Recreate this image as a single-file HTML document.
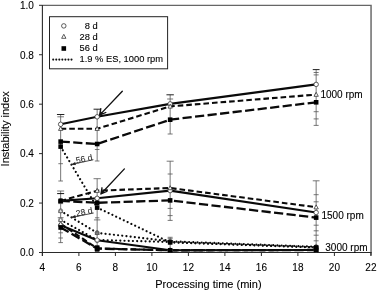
<!DOCTYPE html>
<html><head><meta charset="utf-8"><title>chart</title>
<style>html,body{margin:0;padding:0;background:#fff;overflow:hidden}body{width:378px;height:291px;position:relative;font-family:"Liberation Sans",sans-serif}</style>
</head><body>
<svg width="378" height="291" viewBox="0 0 378 291" style="position:absolute;left:0;top:0;will-change:transform" font-family="'Liberation Sans', sans-serif">
<rect width="378" height="291" fill="#fff"/>
<g fill="none">
<path d="M42.4 5.35H371.05V255.5" stroke="#666" stroke-width="1.45"/>
<path d="M42.4 4.9V256M39.0 252.5H371.6" stroke="#2a2a2a" stroke-width="1.1"/>
<path d="M39.0 252.50H42.4M39.0 203.06H42.4M39.0 153.62H42.4M39.0 104.18H42.4M39.0 54.74H42.4M39.0 5.30H42.4M42.40 252.5V256M78.90 252.5V256M115.40 252.5V256M151.90 252.5V256M188.40 252.5V256M224.90 252.5V256M261.40 252.5V256M297.90 252.5V256M334.40 252.5V256M370.90 252.5V256" stroke="#2a2a2a" stroke-width="1"/>
</g>
<g font-size="10" fill="#000" stroke="#000" stroke-width="0.1">
<text x="33.9" y="256.30" text-anchor="end">0.0</text>
<text x="33.9" y="206.86" text-anchor="end">0.2</text>
<text x="33.9" y="157.42" text-anchor="end">0.4</text>
<text x="33.9" y="107.98" text-anchor="end">0.6</text>
<text x="33.9" y="58.54" text-anchor="end">0.8</text>
<text x="33.9" y="9.10" text-anchor="end">1.0</text>
<text x="42.40" y="270.6" text-anchor="middle">4</text>
<text x="78.90" y="270.6" text-anchor="middle">6</text>
<text x="115.40" y="270.6" text-anchor="middle">8</text>
<text x="151.90" y="270.6" text-anchor="middle">10</text>
<text x="188.40" y="270.6" text-anchor="middle">12</text>
<text x="224.90" y="270.6" text-anchor="middle">14</text>
<text x="261.40" y="270.6" text-anchor="middle">16</text>
<text x="297.90" y="270.6" text-anchor="middle">18</text>
<text x="334.40" y="270.6" text-anchor="middle">20</text>
<text x="370.90" y="270.6" text-anchor="middle">22</text>
</g>
<text x="208.4" y="288" font-size="11" text-anchor="middle" fill="#000" stroke="#000" stroke-width="0.1">Processing time (min)</text>
<text transform="translate(9.3 128.8) rotate(-90)" font-size="11" text-anchor="middle" fill="#000" stroke="#000" stroke-width="0.1">Instability index</text>
<g stroke="#555" stroke-width="0.8" fill="none">
<path d="M60.65 114.5V181.0M57.35 116.8H63.95M58.35 163.7H62.95M58.35 181.0H62.95"/><path d="M56.95 114.5H64.35" stroke="#222" stroke-width="1"/>
<path d="M60.65 191.0V242.6M57.15 191.0H64.15M58.15 203.6H63.15M57.75 217.7H63.55M58.35 232.8H62.95M58.35 238.0H62.95M58.35 242.6H62.95"/><path d="M57.15 193.6H64.15" stroke="#111" stroke-width="1"/>
<path d="M97.15 109.2V161.0M94.85 149.5H99.45M94.85 161.0H99.45"/><path d="M93.55 109.2H100.75" stroke="#222" stroke-width="1"/>
<path d="M97.15 178.7V249.0M93.55 178.7H100.75M94.95 217.8H99.35M93.95 219.9H100.35"/>
<path d="M170.15 94.8V134.0M167.15 99.0H173.15M167.65 134.0H172.65"/><path d="M166.45 94.8H173.85" stroke="#222" stroke-width="1"/>
<path d="M170.15 161.2V220.4M166.65 161.2H173.65M167.65 174.0H172.65M167.65 208.4H172.65M167.65 215.6H172.65M167.65 220.4H172.65"/>
<path d="M170.15 237.3V250.0M167.65 237.3H172.65M167.65 238.7H172.65"/>
<path d="M316.15 69.6V125.4M313.65 72.5H318.65M313.65 74.9H318.65M313.65 111.7H318.65M313.65 118.9H318.65M313.65 125.4H318.65"/><path d="M312.75 69.6H319.55" stroke="#222" stroke-width="1"/>
<path d="M316.15 180.8V250.0M312.75 180.8H319.55M313.65 194.7H318.65M313.65 201.8H318.65M313.65 225.2H318.65M313.65 230.8H318.65M313.65 235.2H318.65M313.65 240.8H318.65"/>
</g>
<g stroke="#0a0a0a" fill="none" stroke-linejoin="round">
<path d="M60.65 146.60L97.15 207.60" stroke-width="2.2" stroke-dasharray="0.01 4.2" stroke-linecap="round" stroke-dashoffset="0"/>
<path d="M97.15 207.60L170.15 242.40" stroke-width="2.2" stroke-dasharray="0.01 4.2" stroke-linecap="round" stroke-dashoffset="0"/>
<path d="M170.15 242.40L316.15 247.50" stroke-width="2.2" stroke-dasharray="0.01 4.2" stroke-linecap="round" stroke-dashoffset="0"/>
<path d="M60.65 210.90L97.15 232.80" stroke-width="2.2" stroke-dasharray="0.01 4.2" stroke-linecap="round" stroke-dashoffset="0"/>
<path d="M97.15 232.80L170.15 241.30" stroke-width="2.2" stroke-dasharray="0.01 4.2" stroke-linecap="round" stroke-dashoffset="0"/>
<path d="M170.15 241.30L316.15 246.80" stroke-width="2.2" stroke-dasharray="0.01 4.2" stroke-linecap="round" stroke-dashoffset="-2.1"/>
<path d="M60.65 219.80L97.15 240.00" stroke-width="2.2" stroke-dasharray="0.01 4.2" stroke-linecap="round" stroke-dashoffset="0"/>
<path d="M97.15 240.00L170.15 242.00" stroke-width="2.2" stroke-dasharray="0.01 4.2" stroke-linecap="round" stroke-dashoffset="-2.1"/>
<path d="M170.15 242.00L316.15 247.30" stroke-width="2.2" stroke-dasharray="0.01 4.2" stroke-linecap="round" stroke-dashoffset="0"/>
<polyline points="60.65,124.30 97.15,116.80 170.15,103.90 316.15,84.40" stroke-width="2.1"/>
<polyline points="60.65,128.70 97.15,128.70 170.15,106.40 316.15,94.60" stroke-width="2.1" stroke-dasharray="5.6 3" stroke-linecap="butt"/>
<polyline points="60.65,141.60 97.15,144.00 170.15,119.70 316.15,102.30" stroke-width="2.3" stroke-dasharray="9.2 3.4"/>
<polyline points="60.65,200.90 97.15,198.30 170.15,190.60 316.15,212.50" stroke-width="2.1"/>
<polyline points="60.65,200.90 97.15,190.70 170.15,188.00 316.15,207.20" stroke-width="2.1" stroke-dasharray="5.6 3" stroke-linecap="butt"/>
<polyline points="60.65,200.90 97.15,202.80 170.15,200.40 316.15,217.60" stroke-width="2.3" stroke-dasharray="9.2 3.4"/>
<polyline points="60.65,225.30 97.15,240.30 170.15,250.30 316.15,250.00" stroke-width="2.1"/>
<polyline points="60.65,223.80 97.15,248.40 170.15,250.30 316.15,250.00" stroke-width="2.1" stroke-dasharray="5.6 3" stroke-linecap="butt"/>
<polyline points="60.65,227.50 97.15,248.60 170.15,250.30 316.15,250.00" stroke-width="2.3" stroke-dasharray="9.2 3.4"/>
</g>
<g>
<circle cx="60.65" cy="124.30" r="2.25" fill="#fff" stroke="#333" stroke-width="0.8"/>
<circle cx="97.15" cy="116.80" r="2.25" fill="#fff" stroke="#333" stroke-width="0.8"/>
<circle cx="170.15" cy="103.90" r="2.25" fill="#fff" stroke="#333" stroke-width="0.8"/>
<circle cx="316.15" cy="84.40" r="2.25" fill="#fff" stroke="#333" stroke-width="0.8"/>
<circle cx="60.65" cy="200.90" r="2.25" fill="#fff" stroke="#333" stroke-width="0.8"/>
<circle cx="97.15" cy="198.30" r="2.25" fill="#fff" stroke="#333" stroke-width="0.8"/>
<circle cx="170.15" cy="190.60" r="2.25" fill="#fff" stroke="#333" stroke-width="0.8"/>
<circle cx="316.15" cy="212.50" r="2.25" fill="#fff" stroke="#333" stroke-width="0.8"/>
<circle cx="60.65" cy="225.30" r="2.25" fill="#fff" stroke="#333" stroke-width="0.8"/>
<circle cx="97.15" cy="240.30" r="2.25" fill="#fff" stroke="#333" stroke-width="0.8"/>
<circle cx="170.15" cy="250.30" r="2.25" fill="#fff" stroke="#333" stroke-width="0.8"/>
<circle cx="316.15" cy="250.00" r="2.25" fill="#fff" stroke="#333" stroke-width="0.8"/>
<circle cx="60.65" cy="219.80" r="2.05" fill="#fff" stroke="#666" stroke-width="0.8"/>
<path d="M60.65 217.50L62.80 221.50H58.50Z" fill="none" stroke="#666" stroke-width="0.8"/>
<circle cx="97.15" cy="240.00" r="2.05" fill="#fff" stroke="#666" stroke-width="0.8"/>
<circle cx="170.15" cy="242.00" r="2.05" fill="#fff" stroke="#666" stroke-width="0.8"/>
<circle cx="316.15" cy="247.30" r="2.05" fill="#fff" stroke="#666" stroke-width="0.8"/>
<path d="M60.65 126.40L62.80 130.40H58.50Z" fill="#fff" stroke="#333" stroke-width="0.8"/>
<path d="M97.15 126.40L99.30 130.40H95.00Z" fill="#fff" stroke="#333" stroke-width="0.8"/>
<path d="M170.15 104.10L172.30 108.10H168.00Z" fill="#fff" stroke="#333" stroke-width="0.8"/>
<path d="M316.15 92.30L318.30 96.30H314.00Z" fill="#fff" stroke="#333" stroke-width="0.8"/>
<path d="M60.65 198.60L62.80 202.60H58.50Z" fill="#fff" stroke="#333" stroke-width="0.8"/>
<path d="M97.15 188.40L99.30 192.40H95.00Z" fill="#fff" stroke="#333" stroke-width="0.8"/>
<path d="M170.15 185.70L172.30 189.70H168.00Z" fill="#fff" stroke="#333" stroke-width="0.8"/>
<path d="M316.15 204.90L318.30 208.90H314.00Z" fill="#fff" stroke="#333" stroke-width="0.8"/>
<path d="M60.65 221.50L62.80 225.50H58.50Z" fill="#fff" stroke="#333" stroke-width="0.8"/>
<path d="M97.15 246.10L99.30 250.10H95.00Z" fill="#fff" stroke="#333" stroke-width="0.8"/>
<path d="M170.15 248.00L172.30 252.00H168.00Z" fill="#fff" stroke="#333" stroke-width="0.8"/>
<path d="M316.15 247.70L318.30 251.70H314.00Z" fill="#fff" stroke="#333" stroke-width="0.8"/>
<circle cx="60.65" cy="210.90" r="2.05" fill="#e4e4e4" stroke="#555" stroke-width="0.8"/>
<path d="M60.65 208.60L62.80 212.60H58.50Z" fill="#e4e4e4" stroke="#555" stroke-width="0.8"/>
<circle cx="97.15" cy="232.80" r="2.05" fill="#7d7d7d" stroke="#555" stroke-width="0.8"/>
<path d="M97.15 230.50L99.30 234.50H95.00Z" fill="#7d7d7d" stroke="#555" stroke-width="0.8"/>
<circle cx="170.15" cy="241.30" r="2.05" fill="#7d7d7d" stroke="#555" stroke-width="0.8"/>
<path d="M170.15 239.00L172.30 243.00H168.00Z" fill="#7d7d7d" stroke="#555" stroke-width="0.8"/>
<circle cx="316.15" cy="246.80" r="2.05" fill="#7d7d7d" stroke="#555" stroke-width="0.8"/>
<path d="M316.15 244.50L318.30 248.50H314.00Z" fill="#7d7d7d" stroke="#555" stroke-width="0.8"/>
<rect x="58.35" y="139.30" width="4.6" height="4.6" fill="#000"/>
<rect x="94.85" y="141.70" width="4.6" height="4.6" fill="#000"/>
<rect x="167.85" y="117.40" width="4.6" height="4.6" fill="#000"/>
<rect x="313.85" y="100.00" width="4.6" height="4.6" fill="#000"/>
<rect x="58.35" y="198.60" width="4.6" height="4.6" fill="#000"/>
<rect x="94.85" y="200.50" width="4.6" height="4.6" fill="#000"/>
<rect x="167.85" y="198.10" width="4.6" height="4.6" fill="#000"/>
<rect x="313.85" y="215.30" width="4.6" height="4.6" fill="#000"/>
<rect x="58.35" y="225.20" width="4.6" height="4.6" fill="#000"/>
<rect x="94.85" y="246.30" width="4.6" height="4.6" fill="#000"/>
<rect x="167.85" y="248.00" width="4.6" height="4.6" fill="#000"/>
<rect x="313.85" y="247.70" width="4.6" height="4.6" fill="#000"/>
<rect x="58.35" y="144.30" width="4.6" height="4.6" fill="#000"/>
<rect x="94.85" y="205.30" width="4.6" height="4.6" fill="#000"/>
<rect x="167.85" y="240.10" width="4.6" height="4.6" fill="#000"/>
<rect x="313.85" y="245.20" width="4.6" height="4.6" fill="#000"/>
</g>
<rect x="94.85" y="245.3" width="4.6" height="6.4" fill="#000"/>
<g stroke="#111" stroke-width="1.35" fill="none" stroke-linecap="round" stroke-linejoin="round">
<path d="M122.3 91.2L99.6 115.1M100.8 108.7L99.6 115.1L105.8 112.5"/><path d="M99.6 115.1L100.4 111L103.4 113.6Z" fill="#111" stroke="none"/>
<path d="M124.4 168.9L100.9 194.0M102.0 187.8L100.9 194.0L106.8 191.5"/><path d="M100.9 194.0L101.7 190L104.6 192.5Z" fill="#111" stroke="none"/>
</g>
<g fill="#2e2e2e" font-size="8.6" stroke="#2e2e2e" stroke-width="0.1">
<path d="M71.6 164.5L93.4 159.7" stroke="#3a3a3a" stroke-width="0.9"/><path d="M71.0 164.7L75.2 162.0L75.9 165.0Z" fill="#222"/>
<text transform="translate(76.6 163.5) rotate(-12.4)">56 d</text>
<path d="M71.6 217.4L93.7 213.0" stroke="#3a3a3a" stroke-width="0.9"/><path d="M71.0 217.6L75.2 215.0L75.9 218.0Z" fill="#222"/>
<text transform="translate(76.6 216.5) rotate(-11.5)">28 d</text>
</g>
<g font-size="10" fill="#000" stroke="#000" stroke-width="0.1">
<text x="320.4" y="97.7">1000 rpm</text>
<text x="321.5" y="219.2">1500 rpm</text>
<text x="325.3" y="251.4">3000 rpm</text>
</g>
<rect x="49.5" y="16.7" width="118.1" height="52.1" fill="#fff" stroke="#222" stroke-width="1"/>
<circle cx="63.80" cy="25.90" r="2.25" fill="#fff" stroke="#333" stroke-width="0.8"/>
<path d="M63.80 34.30L65.95 38.30H61.65Z" fill="#fff" stroke="#333" stroke-width="0.8"/>
<rect x="61.50" y="46.20" width="4.6" height="4.6" fill="#000"/>
<path d="M53.2 59.6H71.8" stroke="#111" stroke-width="2.1" stroke-dasharray="0.01 3.04" stroke-linecap="round" fill="none"/>
<g font-size="9.33" fill="#000" stroke="#000" stroke-width="0.1">
<text x="97.6" y="28.7" text-anchor="end">8 d</text>
<text x="97.6" y="39.9" text-anchor="end">28 d</text>
<text x="97.6" y="51.2" text-anchor="end">56 d</text>
<text x="79.5" y="62.4">1.9 % ES, 1000 rpm</text>
</g>
</svg>
</body></html>
